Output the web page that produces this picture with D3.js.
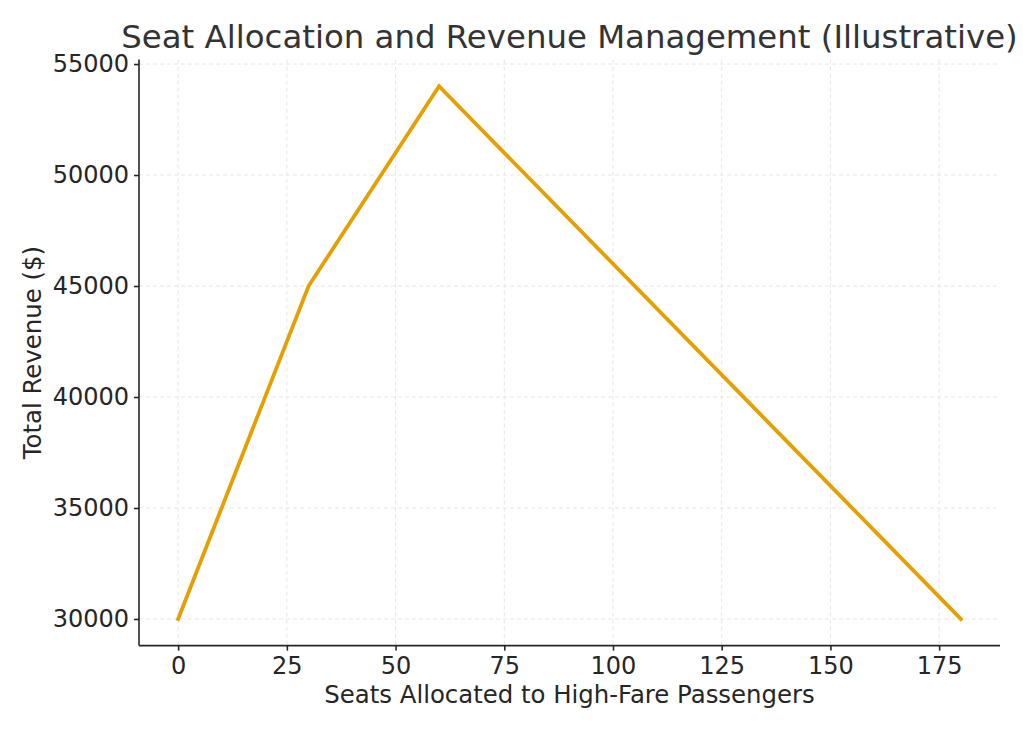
<!DOCTYPE html>
<html>
<head>
<meta charset="utf-8">
<script src="https://cdn.jsdelivr.net/npm/d3@7"></script>
<style>
  html, body { margin: 0; padding: 0; background: #fff; }
  svg { display: block; font-family: "DejaVu Sans", sans-serif; }
</style>
</head>
<body>
<svg id="chart" width="1023" height="731"></svg>
<script>
const seats = [0, 30, 60, 180];
const revenue = [30000, 45000, 54000, 30000];
const xTicks = [0, 25, 50, 75, 100, 125, 150, 175];
const yTicks = [30000, 35000, 40000, 45000, 50000, 55000];
const title = "Seat Allocation and Revenue Management (Illustrative)";
const xLabel = "Seats Allocated to High-Fare Passengers";
const yLabel = "Total Revenue ($)";

const W = 1023, H = 731;
const mLeft = 139, mRight = 1000, mTop = 59.6, mBottom = 645.6;
const svg = d3.select("#chart");

const x = d3.scaleLinear().domain([-9, 189]).range([mLeft, mRight]);
const y = d3.scaleLinear().domain([28800, 55200]).range([mBottom, mTop]);

// grid
const grid = svg.append("g");
grid.selectAll("line.gx").data(xTicks).join("line")
  .attr("x1", d => x(d)).attr("x2", d => x(d))
  .attr("y1", mTop).attr("y2", mBottom)
  .attr("stroke", "#e6e6e6").attr("stroke-width", 1).attr("stroke-dasharray", "4,3");
grid.selectAll("line.gy").data(yTicks).join("line")
  .attr("y1", d => y(d)).attr("y2", d => y(d))
  .attr("x1", mLeft).attr("x2", mRight)
  .attr("stroke", "#e6e6e6").attr("stroke-width", 1).attr("stroke-dasharray", "4,3");

// line
const pts = seats.map((s, i) => [s, revenue[i]]);
svg.append("path")
  .datum(pts)
  .attr("fill", "none")
  .attr("stroke", "#E69F00")
  .attr("stroke-width", 3.8)
  .attr("stroke-linejoin", "miter")
  .attr("stroke-linecap", "square")
  .attr("d", d3.line().x(d => x(d[0])).y(d => y(d[1])));

// axes
const xAxis = svg.append("g").attr("transform", `translate(0,${mBottom})`)
  .call(d3.axisBottom(x).tickValues(xTicks).tickSize(5).tickPadding(6).tickFormat(d3.format("d")));
const yAxis = svg.append("g").attr("transform", `translate(${mLeft},0)`)
  .call(d3.axisLeft(y).tickValues(yTicks).tickSize(5).tickPadding(5).tickFormat(d3.format("d")));

[xAxis, yAxis].forEach(a => {
  a.select(".domain").attr("stroke", "#262626").attr("stroke-width", 1.6);
  a.selectAll(".tick line").attr("stroke", "#262626").attr("stroke-width", 1.6);
  a.selectAll(".tick text").attr("fill", "#262626").attr("font-size", "24px")
    .attr("font-family", "DejaVu Sans, sans-serif");
});
xAxis.select(".domain").attr("d", `M${mLeft},0H${mRight}`);
yAxis.select(".domain").attr("d", `M0,${mBottom}V${mTop}`);

// title
svg.append("text")
  .attr("x", (mLeft + mRight) / 2).attr("y", 48)
  .attr("text-anchor", "middle")
  .attr("font-size", "32.4px")
  .attr("fill", "#333333")
  .text(title);

svg.append("text")
  .attr("x", (mLeft + mRight) / 2).attr("y", 703)
  .attr("text-anchor", "middle")
  .attr("font-size", "24.4px")
  .attr("fill", "#262626")
  .text(xLabel);

svg.append("text")
  .attr("transform", `translate(41,${(mTop + mBottom) / 2}) rotate(-90)`)
  .attr("text-anchor", "middle")
  .attr("font-size", "24.4px")
  .attr("fill", "#262626")
  .text(yLabel);
</script>
</body>
</html>
